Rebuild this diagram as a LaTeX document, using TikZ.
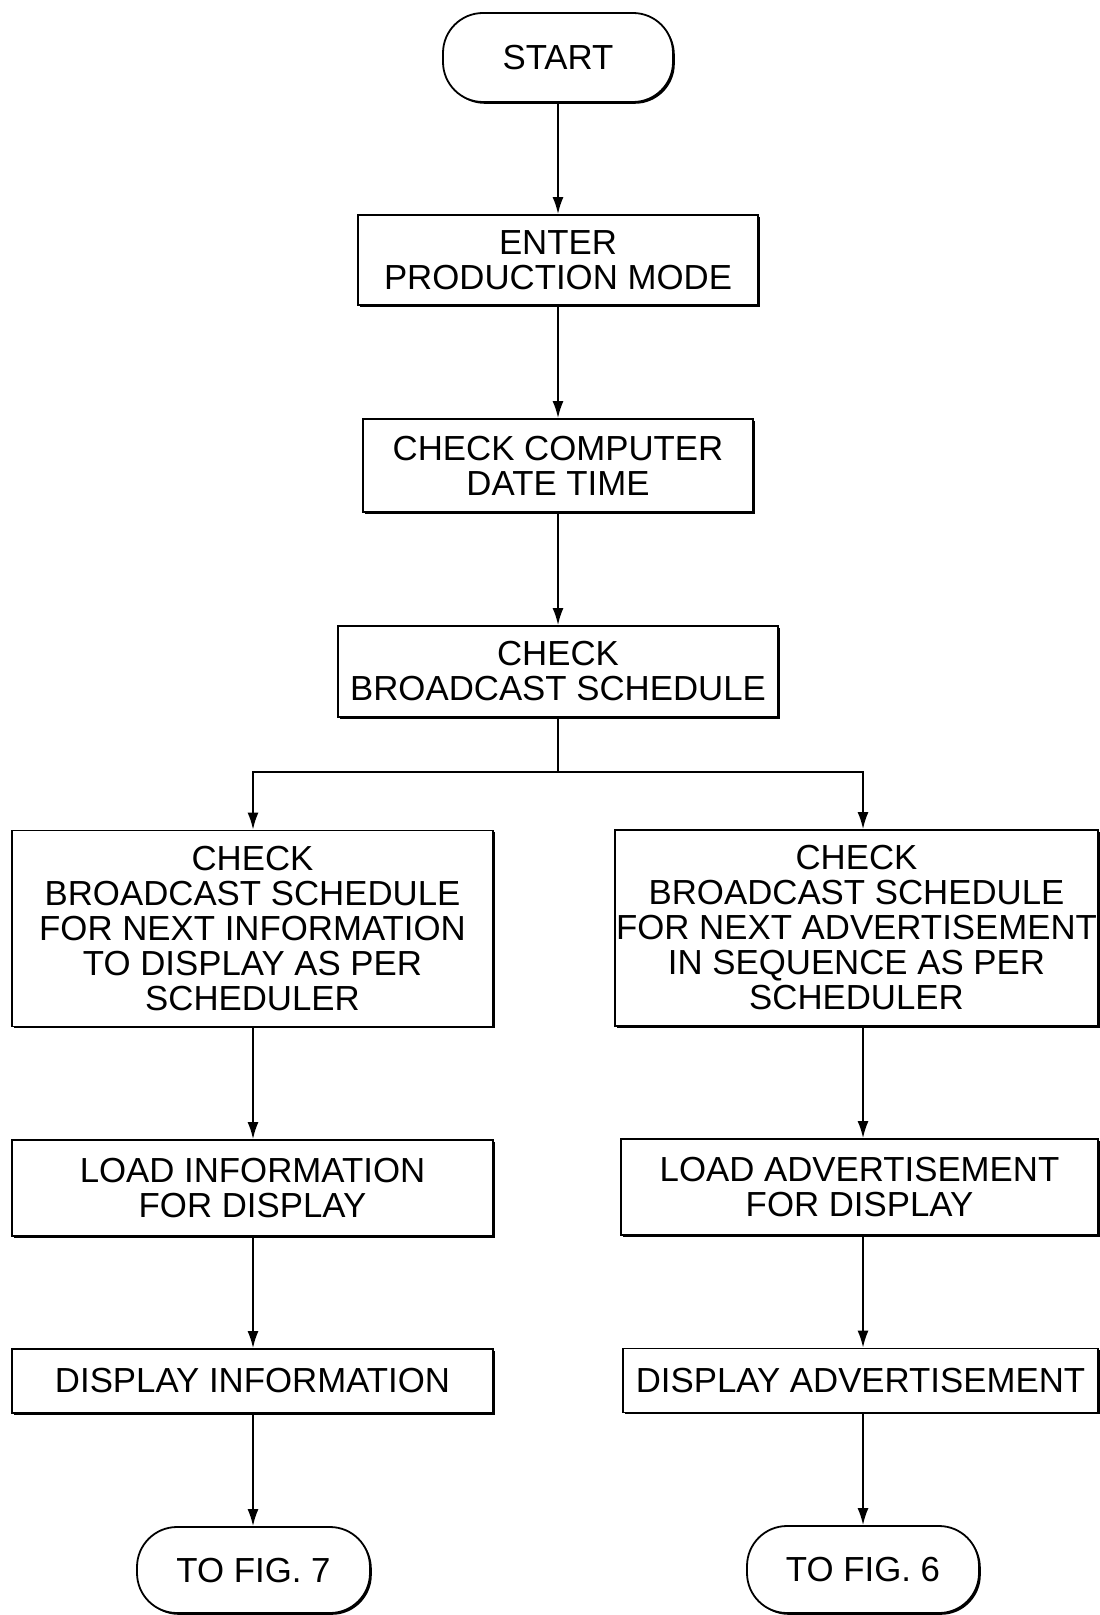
\documentclass[tikz,border=0pt]{standalone}
\usepackage{fontspec}
\setmainfont{Liberation Sans}
\usetikzlibrary{arrows.meta,shadows}
\begin{document}
\begin{tikzpicture}[x=0.5pt,y=-0.5pt,
  font=\fontsize{17.4}{17.5}\selectfont,
  box/.style={draw, line width=0.9pt, fill=white, align=center, inner sep=0pt,
    drop shadow={shadow xshift=0.9pt, shadow yshift=-0.9pt, opacity=1, fill=black}},
  term/.style={box, rounded corners=20pt},
  ln/.style={line width=0.9pt},
  arr/.style={line width=0.9pt, -{Latex[length=8.5pt,width=5.5pt]}}]
\useasboundingbox (0,0) rectangle (1099,1615);

\node[term, minimum width=115pt, minimum height=44.5pt] (start) at (558,57.5) {START};
\node[box, minimum width=200pt, minimum height=45pt] (enter) at (558,260) {ENTER\\PRODUCTION MODE};
\node[box, minimum width=195pt, minimum height=46.5pt] (comp) at (558,465.5) {CHECK COMPUTER\\DATE TIME};
\node[box, minimum width=220pt, minimum height=45.5pt] (sched) at (558,671.5) {CHECK\\BROADCAST SCHEDULE};

\node[box, minimum width=240.5pt, minimum height=98pt] (lbig) at (252.5,928.5)
  {CHECK\\BROADCAST SCHEDULE\\FOR NEXT INFORMATION\\TO DISPLAY AS PER\\SCHEDULER};
\node[box, minimum width=241.5pt, minimum height=98pt] (rbig) at (856.5,928)
  {CHECK\\BROADCAST SCHEDULE\\FOR NEXT ADVERTISEMENT\\IN SEQUENCE AS PER\\SCHEDULER};

\node[box, minimum width=240.5pt, minimum height=48pt] (lload) at (252.5,1188) {LOAD INFORMATION\\FOR DISPLAY};
\node[box, minimum width=238.5pt, minimum height=48pt] (rload) at (859.5,1187) {LOAD ADVERTISEMENT\\FOR DISPLAY};

\node[box, minimum width=240.5pt, minimum height=32pt] (ldisp) at (252.5,1381) {DISPLAY INFORMATION};
\node[box, minimum width=237.5pt, minimum height=32pt] (rdisp) at (860.5,1380.5) {DISPLAY ADVERTISEMENT};

\node[term, minimum width=116.5pt, minimum height=43pt] (to7) at (253.5,1570) {TO FIG. 7};
\node[term, minimum width=116pt, minimum height=43.5pt] (to6) at (863,1569.5) {TO FIG. 6};

\coordinate (br) at (558,772);
\coordinate (cl) at (253,772);
\coordinate (cr) at (863,772);

\draw[arr] (start) -- (enter);
\draw[arr] (enter) -- (comp);
\draw[arr] (comp) -- (sched);
\draw[ln] (sched.south) -- (br);
\draw[arr] (br) -- (cl) -- (cl |- lbig.north);
\draw[arr] (br) -- (cr) -- (cr |- rbig.north);

\draw[arr] (lbig.south -| cl) -- (lload.north -| cl);
\draw[arr] (lload.south -| cl) -- (ldisp.north -| cl);
\draw[arr] (ldisp.south -| cl) -- (to7.north -| cl);

\draw[arr] (rbig.south -| cr) -- (rload.north -| cr);
\draw[arr] (rload.south -| cr) -- (rdisp.north -| cr);
\draw[arr] (rdisp.south -| cr) -- (to6.north -| cr);
\end{tikzpicture}
\end{document}
